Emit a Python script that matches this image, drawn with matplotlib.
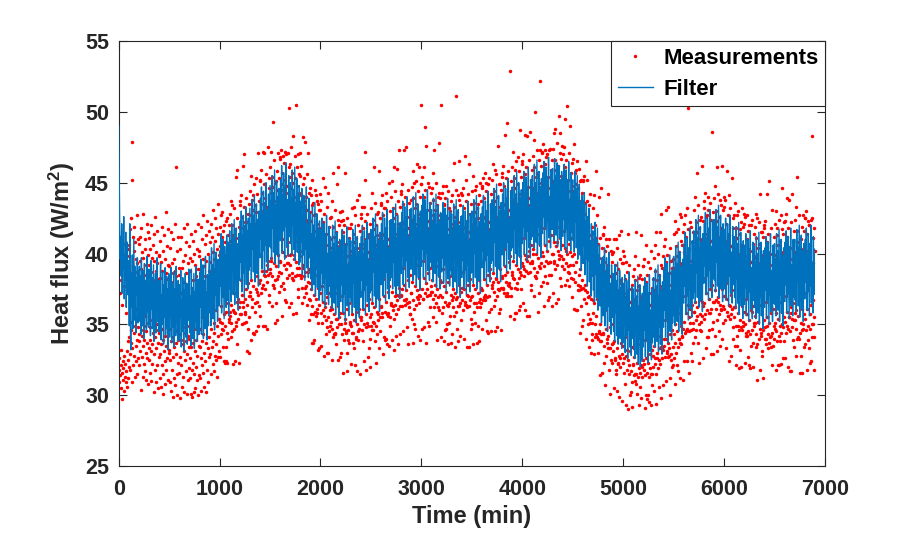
import numpy as np
import matplotlib.pyplot as plt

# Measured heat flux, read from the picture, in tenths of W/m^2,
# one value every 2.5 min (one row per 100 min)
meas_tenths = [
    318, 387, 309, 326, 395, 372, 314, 402, 321, 305, 381, 332, 316, 297, 364, 391, 311, 324, 407, 319, 377, 303, 328, 396, 313, 385, 322, 358, 309, 399, 317, 331, 374, 306, 389, 325, 312, 403, 338, 320,
    341, 406, 398, 329, 352, 417, 318, 384, 337, 425, 346, 309, 452, 479, 333, 391, 412, 321, 356, 402, 344, 328, 419, 387, 313, 349, 408, 335, 396, 324, 361, 427, 339, 315, 393, 348, 410, 326, 382, 343,
    407, 338, 321, 395, 354, 412, 331, 346, 389, 304, 418, 342, 327, 401, 376, 335, 313, 397, 428, 349, 322, 385, 339, 410, 317, 356, 403, 330, 392, 345, 311, 421, 337, 384, 326, 399, 351, 308, 415, 333,
    325, 392, 411, 339, 316, 348, 403, 331, 387, 420, 310, 353, 397, 336, 322, 406, 344, 381, 302, 414, 329, 395, 358, 318, 426, 341, 388, 333, 309, 401, 350, 321, 393, 416, 337, 305, 382, 346, 399, 327,
    398, 344, 312, 383, 409, 329, 351, 306, 394, 336, 419, 321, 347, 388, 315, 402, 339, 301, 378, 413, 331, 357, 324, 396, 342, 308, 386, 429, 335, 318, 405, 349, 382, 326, 311, 392, 343, 417, 330, 356,
    332, 391, 347, 309, 404, 325, 380, 338, 415, 303, 355, 393, 318, 341, 386, 327, 410, 299, 349, 396, 334, 312, 388, 345, 421, 307, 337, 461, 329, 384, 315, 402, 346, 300, 377, 339, 412, 323, 358, 390,
    385, 316, 343, 403, 327, 298, 372, 339, 412, 321, 354, 390, 306, 336, 395, 348, 313, 418, 331, 380, 302, 344, 399, 325, 360, 408, 317, 338, 386, 301, 349, 421, 329, 311, 393, 342, 376, 319, 405, 334,
    340, 397, 312, 326, 388, 301, 351, 414, 334, 318, 395, 346, 299, 381, 409, 323, 337, 302, 400, 358, 315, 392, 331, 416, 305, 347, 384, 320, 339, 403, 311, 376, 328, 421, 344, 300, 389, 335, 314, 398,
    402, 334, 389, 312, 347, 419, 326, 303, 381, 355, 410, 338, 321, 396, 343, 427, 316, 365, 391, 330, 306, 407, 349, 324, 384, 413, 337, 302, 395, 352, 318, 423, 341, 376, 309, 400, 333, 388, 327, 416,
    341, 408, 329, 394, 356, 315, 421, 347, 386, 334, 412, 369, 322, 401, 338, 431, 351, 317, 396, 344, 425, 328, 383, 409, 336, 360, 418, 325, 349, 403, 313, 390, 435, 342, 327, 414, 354, 399, 331, 387,
    419, 352, 327, 405, 427, 343, 363, 398, 347, 412, 351, 429, 334, 394, 346, 416, 324, 379, 420, 357, 323, 408, 349, 391, 324, 423, 359, 334, 402, 344, 425, 323, 397, 365, 413, 340, 352, 420, 354, 406,
    356, 428, 359, 409, 364, 437, 341, 351, 420, 389, 345, 434, 322, 413, 360, 398, 359, 432, 372, 347, 417, 324, 403, 358, 454, 352, 411, 349, 425, 336, 366, 459, 368, 406, 354, 419, 323, 396, 362, 434,
    437, 366, 357, 418, 441, 357, 381, 409, 350, 426, 371, 462, 366, 413, 362, 433, 351, 396, 470, 368, 357, 422, 359, 405, 352, 439, 375, 331, 416, 364, 422, 347, 411, 379, 428, 355, 330, 435, 370, 420,
    373, 444, 370, 427, 381, 455, 339, 368, 438, 404, 362, 441, 344, 431, 377, 415, 343, 449, 390, 365, 434, 359, 421, 375, 453, 345, 429, 366, 442, 373, 384, 471, 349, 424, 371, 437, 363, 413, 379, 451,
    452, 381, 356, 435, 459, 372, 398, 426, 376, 443, 388, 472, 349, 430, 378, 449, 385, 413, 471, 384, 349, 439, 375, 421, 388, 456, 392, 347, 433, 380, 475, 385, 428, 395, 446, 371, 366, 453, 386, 437,
    389, 461, 395, 443, 397, 472, 363, 384, 454, 420, 378, 493, 378, 447, 393, 431, 376, 466, 406, 381, 450, 351, 437, 391, 451, 365, 445, 382, 458, 353, 399, 471, 384, 440, 387, 453, 373, 429, 395, 468,
    467, 394, 377, 449, 473, 386, 410, 441, 356, 457, 401, 469, 379, 445, 392, 464, 375, 427, 472, 398, 367, 452, 389, 436, 366, 470, 405, 383, 448, 393, 471, 393, 443, 408, 461, 385, 362, 503, 399, 454,
    392, 463, 365, 446, 400, 475, 383, 386, 457, 423, 381, 483, 357, 450, 396, 434, 399, 469, 409, 384, 453, 358, 440, 394, 505, 390, 448, 385, 461, 375, 402, 470, 369, 443, 390, 456, 385, 432, 398, 471,
    455, 383, 385, 441, 462, 376, 402, 433, 365, 449, 392, 482, 390, 437, 384, 453, 369, 418, 479, 387, 376, 440, 377, 422, 372, 456, 394, 364, 431, 380, 471, 387, 424, 389, 443, 368, 353, 446, 379, 429,
    367, 441, 357, 423, 375, 452, 337, 363, 434, 398, 357, 436, 337, 427, 371, 410, 339, 445, 385, 359, 428, 356, 416, 368, 441, 358, 421, 361, 437, 332, 376, 435, 351, 418, 364, 431, 333, 407, 372, 442,
    431, 358, 335, 412, 437, 351, 377, 404, 360, 422, 366, 453, 328, 409, 356, 428, 365, 390, 447, 362, 343, 414, 353, 397, 330, 433, 369, 348, 406, 355, 443, 330, 401, 372, 419, 345, 349, 425, 360, 410,
    352, 426, 362, 404, 361, 437, 325, 347, 419, 385, 341, 457, 343, 412, 357, 398, 343, 431, 372, 344, 415, 336, 401, 354, 449, 354, 408, 348, 424, 325, 363, 461, 355, 405, 350, 420, 327, 393, 358, 429,
    423, 350, 330, 404, 430, 343, 370, 396, 316, 415, 358, 424, 339, 401, 347, 420, 351, 381, 457, 354, 344, 407, 345, 389, 330, 425, 361, 317, 398, 346, 418, 339, 393, 365, 411, 337, 350, 418, 352, 402,
    349, 421, 322, 399, 357, 432, 344, 344, 414, 380, 337, 433, 333, 408, 353, 394, 321, 427, 368, 340, 411, 341, 397, 350, 438, 317, 404, 345, 420, 339, 359, 441, 361, 401, 347, 416, 315, 390, 355, 425,
    428, 353, 355, 407, 433, 346, 373, 399, 338, 418, 361, 433, 324, 404, 350, 423, 472, 384, 452, 357, 318, 410, 348, 392, 351, 428, 364, 327, 401, 349, 412, 333, 396, 368, 414, 340, 320, 421, 355, 405,
    357, 432, 349, 409, 365, 443, 346, 352, 424, 390, 346, 461, 351, 417, 362, 403, 338, 436, 377, 349, 420, 323, 406, 359, 428, 343, 413, 353, 429, 357, 368, 458, 333, 410, 355, 425, 345, 398, 363, 434,
    436, 362, 358, 414, 441, 355, 382, 408, 329, 427, 370, 432, 341, 413, 359, 432, 339, 394, 443, 366, 340, 418, 357, 401, 336, 437, 373, 356, 410, 358, 450, 335, 405, 377, 423, 349, 355, 430, 364, 414,
    365, 440, 339, 417, 373, 451, 363, 360, 432, 398, 354, 461, 332, 425, 370, 411, 364, 444, 385, 357, 428, 342, 414, 367, 460, 371, 421, 361, 437, 336, 376, 473, 370, 418, 363, 433, 343, 406, 371, 442,
    444, 370, 375, 422, 449, 363, 390, 416, 345, 435, 378, 473, 367, 421, 367, 440, 364, 402, 475, 374, 368, 426, 365, 409, 348, 445, 381, 336, 418, 366, 436, 362, 413, 385, 431, 357, 357, 438, 372, 422,
    372, 447, 354, 424, 380, 458, 337, 367, 439, 405, 361, 450, 350, 432, 377, 418, 347, 451, 392, 364, 435, 369, 421, 374, 463, 342, 428, 368, 444, 365, 383, 461, 371, 425, 370, 440, 339, 413, 505, 449,
    449, 375, 347, 427, 454, 368, 395, 421, 368, 440, 383, 461, 348, 426, 372, 445, 489, 407, 476, 379, 337, 431, 370, 414, 375, 450, 386, 352, 423, 371, 447, 349, 418, 390, 436, 362, 371, 443, 377, 427,
    373, 446, 373, 423, 381, 457, 355, 368, 438, 404, 362, 473, 371, 431, 378, 417, 352, 450, 391, 365, 434, 339, 420, 375, 440, 362, 427, 369, 443, 360, 384, 478, 381, 424, 371, 439, 341, 412, 380, 505,
    443, 369, 358, 421, 448, 362, 389, 415, 338, 434, 377, 435, 346, 420, 366, 439, 347, 401, 448, 373, 350, 425, 364, 408, 363, 444, 380, 336, 417, 365, 432, 351, 412, 384, 430, 356, 337, 437, 371, 421,
    367, 441, 343, 418, 375, 452, 369, 362, 433, 399, 356, 464, 334, 426, 372, 412, 368, 445, 511, 359, 429, 347, 415, 369, 441, 338, 422, 363, 438, 363, 378, 465, 342, 419, 365, 434, 353, 407, 373, 443,
    441, 367, 376, 419, 446, 360, 387, 413, 340, 432, 375, 469, 366, 418, 364, 437, 364, 399, 452, 371, 334, 423, 362, 406, 370, 442, 378, 334, 415, 363, 463, 367, 410, 382, 428, 354, 347, 435, 369, 419,
    370, 444, 350, 421, 378, 455, 336, 365, 436, 402, 359, 445, 351, 429, 375, 415, 365, 448, 389, 362, 432, 337, 418, 372, 435, 349, 425, 366, 441, 338, 381, 450, 362, 422, 368, 437, 365, 410, 376, 446,
    448, 374, 347, 426, 453, 367, 394, 420, 369, 439, 382, 457, 367, 425, 371, 444, 353, 406, 450, 378, 345, 430, 369, 413, 344, 449, 385, 359, 422, 370, 453, 383, 417, 389, 435, 361, 345, 442, 376, 426,
    378, 452, 380, 429, 386, 463, 363, 373, 444, 410, 367, 459, 345, 437, 383, 423, 382, 456, 397, 370, 440, 348, 426, 380, 476, 375, 433, 374, 449, 358, 389, 449, 361, 430, 376, 445, 346, 418, 384, 454,
    457, 383, 375, 435, 462, 376, 403, 429, 372, 448, 391, 484, 385, 434, 380, 453, 370, 415, 492, 387, 372, 439, 378, 422, 370, 458, 394, 377, 431, 379, 529, 356, 426, 398, 444, 370, 376, 451, 385, 435,
    387, 461, 383, 438, 395, 472, 354, 382, 453, 419, 376, 459, 358, 446, 392, 432, 358, 465, 406, 379, 449, 375, 435, 389, 468, 360, 442, 383, 458, 387, 398, 487, 363, 439, 385, 454, 375, 427, 393, 463,
    465, 391, 365, 443, 470, 384, 411, 437, 389, 456, 399, 484, 360, 442, 388, 461, 396, 423, 483, 395, 356, 447, 386, 430, 398, 466, 402, 356, 439, 387, 486, 393, 434, 406, 452, 378, 374, 459, 393, 443,
    395, 469, 400, 446, 403, 480, 370, 390, 461, 427, 384, 500, 384, 454, 400, 440, 383, 473, 414, 387, 457, 359, 443, 397, 456, 372, 450, 391, 466, 522, 406, 473, 390, 447, 393, 462, 377, 435, 401, 471,
    472, 398, 380, 450, 477, 391, 418, 444, 363, 463, 406, 473, 384, 449, 395, 468, 379, 430, 470, 402, 367, 454, 393, 437, 369, 473, 409, 385, 446, 394, 474, 394, 441, 413, 459, 385, 363, 466, 400, 450,
    400, 474, 372, 451, 408, 485, 393, 395, 466, 432, 389, 488, 365, 459, 405, 445, 408, 478, 419, 392, 462, 368, 448, 402, 497, 399, 455, 396, 471, 383, 411, 485, 377, 452, 398, 467, 391, 440, 406, 476,
    470, 396, 396, 448, 475, 389, 416, 442, 378, 461, 404, 495, 402, 447, 393, 466, 381, 428, 504, 400, 387, 452, 391, 435, 386, 471, 407, 377, 444, 392, 490, 401, 439, 411, 457, 383, 369, 464, 398, 448,
    392, 467, 382, 444, 400, 477, 361, 387, 457, 423, 380, 459, 360, 449, 394, 433, 360, 465, 405, 378, 446, 374, 431, 385, 460, 374, 437, 377, 451, 344, 389, 452, 363, 428, 375, 443, 349, 414, 381, 452,
    451, 376, 353, 428, 455, 368, 394, 418, 374, 436, 378, 465, 340, 420, 365, 437, 373, 398, 452, 369, 350, 419, 357, 401, 334, 434, 370, 351, 407, 354, 442, 330, 397, 368, 413, 339, 343, 419, 351, 402,
    358, 432, 367, 410, 365, 441, 329, 350, 420, 386, 341, 458, 343, 411, 356, 395, 341, 427, 368, 340, 407, 330, 393, 345, 440, 344, 397, 338, 411, 314, 350, 446, 343, 390, 338, 404, 316, 378, 344, 413,
    414, 343, 323, 394, 419, 335, 360, 385, 307, 402, 347, 410, 328, 388, 337, 405, 340, 369, 442, 342, 333, 392, 333, 375, 318, 410, 348, 301, 384, 333, 402, 325, 377, 350, 394, 323, 336, 400, 337, 383,
    331, 401, 305, 378, 338, 410, 326, 325, 392, 359, 318, 410, 315, 386, 333, 370, 303, 404, 345, 322, 389, 323, 374, 328, 413, 299, 381, 326, 396, 320, 337, 416, 343, 379, 329, 393, 296, 365, 335, 402,
    393, 323, 326, 372, 398, 316, 341, 365, 308, 382, 328, 394, 293, 369, 318, 387, 332, 350, 414, 325, 290, 374, 315, 358, 321, 392, 331, 300, 366, 317, 375, 302, 360, 334, 378, 309, 292, 384, 322, 368,
    321, 389, 314, 367, 327, 398, 310, 315, 381, 349, 308, 415, 315, 374, 323, 360, 301, 392, 336, 313, 377, 293, 363, 319, 383, 306, 370, 316, 385, 321, 327, 413, 298, 368, 320, 382, 313, 354, 325, 391,
    391, 322, 318, 370, 396, 314, 339, 363, 291, 380, 326, 406, 300, 367, 316, 385, 297, 348, 394, 323, 300, 372, 313, 356, 295, 390, 329, 319, 364, 315, 402, 293, 358, 332, 376, 307, 315, 382, 320, 366,
    328, 397, 303, 374, 335, 406, 326, 322, 388, 355, 315, 415, 294, 381, 330, 367, 326, 400, 342, 319, 385, 306, 370, 325, 415, 333, 377, 322, 392, 298, 334, 428, 333, 375, 326, 390, 307, 362, 332, 398,
    405, 335, 340, 384, 410, 327, 353, 377, 310, 394, 340, 431, 331, 381, 330, 399, 327, 362, 433, 337, 333, 386, 328, 370, 312, 404, 343, 300, 378, 329, 395, 325, 372, 346, 390, 320, 321, 396, 334, 381,
    343, 414, 326, 390, 350, 423, 308, 337, 405, 371, 330, 415, 321, 398, 345, 383, 317, 417, 358, 334, 401, 340, 387, 340, 428, 312, 393, 337, 409, 336, 349, 426, 342, 392, 341, 406, 311, 378, 347, 415,
    421, 352, 324, 401, 427, 344, 370, 394, 345, 412, 358, 432, 324, 398, 347, 417, 364, 379, 503, 355, 316, 403, 345, 387, 351, 422, 361, 330, 395, 346, 419, 324, 390, 364, 408, 337, 347, 415, 351, 399,
    359, 431, 359, 408, 366, 440, 341, 353, 422, 388, 346, 457, 356, 415, 362, 400, 337, 434, 375, 350, 418, 323, 404, 357, 424, 346, 410, 352, 426, 345, 367, 462, 366, 409, 356, 423, 326, 395, 363, 432,
    437, 365, 354, 414, 443, 357, 383, 407, 333, 426, 372, 427, 341, 411, 360, 431, 341, 393, 440, 368, 346, 417, 358, 401, 358, 436, 375, 329, 409, 361, 424, 347, 404, 378, 486, 352, 329, 429, 366, 413,
    366, 439, 342, 416, 374, 448, 367, 361, 430, 396, 353, 461, 331, 423, 369, 408, 366, 442, 384, 357, 426, 345, 412, 364, 438, 335, 418, 360, 434, 361, 375, 462, 340, 417, 363, 431, 351, 403, 370, 440,
    433, 361, 370, 409, 438, 353, 379, 403, 333, 421, 368, 458, 359, 407, 356, 427, 356, 389, 441, 364, 324, 413, 354, 397, 363, 432, 371, 328, 405, 357, 453, 361, 400, 374, 418, 348, 340, 425, 362, 409,
    355, 427, 335, 404, 362, 436, 321, 349, 418, 384, 342, 427, 335, 411, 358, 396, 349, 430, 371, 346, 414, 319, 400, 353, 417, 332, 406, 348, 422, 320, 363, 432, 346, 405, 352, 419, 349, 391, 359, 428,
    421, 350, 323, 398, 426, 342, 368, 392, 344, 410, 357, 427, 342, 396, 345, 416, 327, 378, 420, 353, 321, 402, 343, 386, 319, 420, 360, 335, 394, 346, 424, 359, 389, 363, 407, 337, 320, 414, 351, 398,
    349, 419, 351, 397, 356, 428, 334, 343, 411, 377, 336, 425, 311, 404, 352, 389, 352, 422, 364, 340, 407, 318, 393, 347, 442, 344, 399, 342, 415, 328, 357, 415, 331, 398, 346, 412, 312, 384, 353, 420,
    418, 348, 340, 396, 423, 340, 366, 390, 336, 408, 355, 442, 349, 394, 343, 414, 333, 376, 451, 351, 337, 400, 341, 384, 334, 418, 358, 342, 392, 344, 431, 321, 387, 361, 405, 335, 340, 412, 349, 396,
    351, 421, 347, 399, 358, 430, 318, 345, 413, 379, 338, 418, 321, 406, 354, 391, 321, 424, 366, 342, 409, 338, 395, 349, 427, 322, 401, 344, 417, 350, 359, 446, 326, 400, 348, 414, 338, 386, 355, 422,
    423, 352, 326, 400, 428, 344, 370, 394, 349, 412, 359, 439, 320, 398, 347, 418, 355, 380, 438, 355, 317, 404, 345, 388, 358, 422, 362, 317, 396, 348, 442, 354, 391, 365, 409, 339, 334, 416, 353, 400,
    353, 424, 358, 401, 360, 433, 328, 347, 416, 381, 340, 454, 341, 408, 356, 393, 340, 427, 368, 344, 411, 316, 397, 351, 410, 328, 403, 346, 419, 316, 361, 427, 347, 402, 350, 416, 334, 388, 357, 425,
    425, 354, 336, 402, 430, 346, 372, 396, 318, 414, 361, 423, 339, 400, 349, 420, 333, 382, 420, 357, 323, 406, 347, 390, 324, 424, 364, 341, 483, 350, 425, 350, 393, 367, 411, 341, 318, 418, 355, 402,
]

# Filter output, in tenths of W/m^2, one value every 5 min (one row per 100 min)
filt_tenths = [
    490, 452, 418, 396, 412, 384, 421, 372, 405, 389, 426, 368, 398, 381, 415, 362, 393, 408, 371, 386,
    395, 349, 421, 358, 332, 386, 362, 399, 347, 378, 410, 353, 391, 365, 344, 383, 371, 397, 351, 388,
    352, 391, 361, 384, 343, 397, 366, 349, 388, 372, 340, 393, 357, 381, 364, 346, 398, 359, 376, 348,
    389, 350, 376, 342, 395, 361, 383, 347, 370, 392, 338, 379, 356, 386, 344, 373, 397, 352, 365, 381,
    345, 381, 358, 393, 339, 371, 350, 387, 362, 336, 378, 355, 390, 343, 368, 384, 347, 375, 332, 386,
    384, 341, 372, 356, 390, 337, 366, 379, 348, 387, 334, 361, 375, 342, 391, 352, 369, 338, 381, 357,
    339, 378, 355, 388, 334, 367, 345, 383, 359, 331, 374, 350, 386, 341, 364, 379, 336, 372, 353, 389,
    380, 344, 370, 335, 389, 357, 376, 340, 365, 386, 333, 373, 352, 391, 347, 368, 338, 382, 360, 343,
    351, 387, 362, 396, 343, 376, 355, 392, 340, 381, 366, 347, 398, 358, 373, 339, 385, 363, 349, 390,
    398, 358, 386, 349, 404, 368, 392, 354, 381, 407, 346, 389, 371, 401, 360, 383, 352, 396, 375, 363,
    365, 402, 377, 414, 358, 395, 369, 410, 381, 354, 405, 374, 399, 362, 413, 385, 367, 408, 356, 397,
    416, 375, 405, 366, 421, 387, 411, 371, 398, 424, 364, 403, 381, 418, 369, 407, 392, 360, 414, 384,
    381, 423, 394, 430, 373, 412, 386, 427, 398, 369, 420, 390, 433, 378, 416, 404, 375, 425, 388, 411,
    432, 391, 421, 382, 438, 403, 427, 387, 414, 441, 380, 419, 398, 435, 386, 424, 409, 377, 430, 401,
    397, 439, 410, 447, 389, 428, 402, 444, 415, 385, 436, 406, 450, 394, 431, 420, 388, 442, 405, 427,
    448, 404, 437, 396, 455, 418, 443, 401, 430, 459, 393, 434, 412, 451, 399, 440, 424, 390, 446, 415,
    409, 452, 423, 462, 400, 441, 416, 457, 429, 396, 448, 419, 464, 405, 438, 433, 398, 455, 412, 443,
    450, 407, 439, 399, 459, 420, 445, 403, 432, 461, 395, 436, 414, 453, 401, 442, 426, 392, 448, 417,
    394, 437, 408, 446, 385, 426, 399, 441, 412, 381, 434, 403, 447, 390, 421, 417, 383, 439, 397, 428,
    425, 382, 414, 374, 433, 396, 420, 378, 407, 436, 370, 411, 389, 428, 376, 417, 401, 367, 423, 392,
    374, 417, 386, 425, 366, 405, 379, 421, 392, 362, 414, 383, 427, 371, 400, 396, 364, 419, 377, 408,
    412, 369, 401, 361, 420, 382, 407, 365, 394, 423, 357, 398, 376, 415, 363, 404, 388, 354, 410, 379,
    366, 409, 378, 417, 358, 397, 371, 413, 384, 352, 406, 375, 419, 363, 392, 388, 356, 411, 369, 400,
    409, 366, 398, 358, 417, 379, 404, 362, 391, 420, 351, 395, 373, 412, 360, 401, 385, 355, 407, 376,
    369, 412, 381, 420, 361, 400, 374, 416, 387, 357, 409, 378, 422, 366, 395, 391, 359, 414, 372, 403,
    417, 374, 406, 366, 425, 387, 412, 370, 399, 428, 362, 403, 381, 420, 368, 409, 393, 359, 415, 384,
    378, 421, 390, 429, 370, 409, 383, 425, 396, 366, 418, 387, 431, 375, 404, 400, 368, 423, 381, 412,
    424, 383, 413, 375, 432, 394, 421, 377, 406, 435, 371, 410, 388, 427, 377, 418, 400, 368, 422, 393,
    386, 429, 398, 437, 378, 417, 391, 433, 404, 374, 426, 395, 440, 383, 412, 408, 376, 431, 389, 420,
    432, 389, 421, 381, 440, 402, 427, 385, 414, 443, 377, 418, 396, 435, 383, 424, 408, 374, 430, 399,
    391, 434, 403, 442, 383, 422, 396, 438, 409, 379, 431, 400, 445, 388, 417, 413, 381, 436, 394, 425,
    431, 390, 422, 380, 439, 401, 428, 386, 413, 442, 376, 419, 395, 434, 384, 423, 407, 375, 429, 398,
    387, 428, 397, 436, 379, 416, 392, 432, 403, 373, 427, 394, 439, 382, 413, 407, 377, 430, 388, 419,
    428, 384, 417, 376, 435, 397, 423, 380, 410, 438, 372, 414, 391, 431, 378, 420, 403, 369, 426, 394,
    383, 427, 395, 434, 375, 414, 388, 430, 401, 371, 423, 392, 437, 380, 409, 405, 373, 428, 386, 417,
    430, 387, 419, 379, 438, 400, 425, 383, 412, 441, 375, 416, 394, 433, 381, 422, 406, 372, 428, 397,
    390, 433, 402, 441, 382, 421, 395, 437, 408, 378, 430, 399, 444, 387, 416, 412, 380, 435, 393, 424,
    438, 395, 427, 387, 446, 408, 433, 391, 420, 449, 383, 424, 402, 441, 389, 430, 414, 380, 436, 405,
    399, 442, 411, 450, 391, 430, 404, 446, 417, 387, 439, 408, 453, 396, 425, 421, 389, 444, 402, 433,
    447, 404, 436, 396, 455, 417, 442, 400, 429, 458, 392, 433, 411, 450, 398, 439, 423, 389, 445, 414,
    407, 450, 419, 458, 399, 438, 412, 454, 425, 395, 447, 416, 461, 404, 433, 429, 397, 452, 410, 441,
    455, 412, 444, 404, 463, 425, 450, 408, 437, 466, 400, 441, 419, 458, 406, 447, 431, 397, 453, 422,
    414, 457, 426, 465, 406, 445, 419, 461, 432, 402, 454, 423, 468, 411, 440, 436, 404, 459, 417, 448,
    460, 417, 449, 409, 467, 430, 455, 413, 442, 464, 405, 446, 424, 462, 411, 452, 436, 402, 458, 427,
    412, 455, 424, 463, 404, 443, 417, 459, 430, 400, 452, 421, 465, 409, 438, 432, 402, 457, 415, 446,
    452, 409, 443, 401, 458, 422, 446, 404, 431, 455, 396, 435, 413, 449, 399, 437, 420, 388, 441, 410,
    393, 437, 405, 443, 385, 423, 396, 435, 406, 377, 426, 395, 432, 380, 409, 401, 370, 421, 384, 411,
    416, 374, 408, 366, 422, 386, 410, 369, 395, 418, 360, 399, 377, 406, 363, 392, 380, 351, 397, 370,
    356, 398, 368, 404, 349, 386, 360, 397, 372, 345, 390, 363, 401, 352, 379, 374, 343, 392, 355, 383,
    386, 345, 377, 338, 392, 358, 381, 342, 369, 394, 336, 373, 351, 388, 340, 376, 362, 333, 383, 354,
    337, 379, 349, 385, 330, 368, 342, 381, 355, 326, 374, 346, 387, 334, 362, 357, 328, 377, 340, 369,
    375, 332, 366, 326, 381, 347, 370, 329, 358, 384, 322, 362, 340, 378, 320, 367, 351, 324, 372, 343,
    334, 377, 346, 383, 327, 365, 339, 379, 352, 323, 372, 343, 385, 331, 360, 355, 325, 375, 337, 367,
    383, 341, 372, 334, 389, 354, 377, 338, 365, 392, 331, 369, 348, 385, 336, 374, 359, 329, 380, 350,
    348, 390, 360, 397, 341, 379, 353, 393, 366, 337, 386, 357, 399, 345, 374, 369, 339, 388, 351, 381,
    398, 356, 388, 349, 405, 369, 393, 352, 381, 408, 345, 385, 363, 401, 350, 391, 375, 343, 396, 366,
    365, 407, 377, 415, 357, 396, 370, 411, 383, 353, 404, 374, 418, 361, 392, 386, 355, 409, 368, 399,
    416, 373, 405, 365, 424, 386, 411, 369, 398, 427, 362, 402, 380, 419, 367, 408, 392, 359, 414, 383,
    379, 421, 391, 429, 371, 410, 384, 425, 397, 367, 418, 388, 431, 376, 405, 400, 369, 423, 382, 413,
    424, 381, 413, 373, 431, 394, 419, 377, 406, 434, 369, 410, 388, 427, 375, 416, 400, 366, 421, 391,
    375, 417, 387, 425, 367, 406, 380, 421, 393, 363, 414, 384, 427, 372, 401, 396, 365, 419, 378, 409,
    412, 369, 401, 361, 419, 382, 407, 365, 394, 422, 357, 398, 376, 415, 363, 404, 388, 354, 409, 379,
    364, 406, 376, 414, 356, 395, 369, 410, 382, 352, 403, 373, 416, 361, 390, 385, 354, 408, 367, 398,
    405, 362, 394, 354, 412, 375, 400, 358, 387, 415, 350, 391, 369, 408, 356, 397, 381, 347, 402, 372,
    362, 404, 374, 412, 354, 393, 367, 408, 380, 350, 401, 371, 414, 359, 388, 383, 352, 406, 365, 396,
    407, 364, 396, 356, 414, 377, 402, 360, 389, 417, 352, 393, 371, 410, 358, 399, 383, 349, 404, 374,
    366, 408, 378, 416, 358, 397, 371, 412, 384, 354, 405, 375, 418, 363, 392, 387, 356, 410, 369, 400,
    410, 367, 399, 359, 417, 380, 405, 363, 392, 420, 355, 396, 374, 413, 361, 402, 386, 352, 407, 377,
    368, 410, 380, 418, 360, 399, 373, 414, 386, 356, 407, 377, 420, 365, 394, 389, 358, 412, 371, 403,
]

meas_step = 2.5  # min between measurements
filt_step = 5    # min between filter outputs
x_ticks = [0, 1000, 2000, 3000, 4000, 5000, 6000, 7000]
y_ticks = [25, 30, 35, 40, 45, 50, 55]

t_meas = np.arange(len(meas_tenths)) * meas_step
t_filt = np.arange(len(filt_tenths)) * filt_step
meas = np.array(meas_tenths) / 10.0
filt = np.array(filt_tenths) / 10.0

plt.rcParams['font.family'] = ['Liberation Sans', 'DejaVu Sans']
plt.rcParams['font.weight'] = 'bold'
plt.rcParams['axes.labelweight'] = 'bold'
plt.rcParams['mathtext.fontset'] = 'custom'
plt.rcParams['mathtext.bf'] = 'Liberation Sans:bold'
plt.rcParams['mathtext.rm'] = 'Liberation Sans:bold'
plt.rcParams['mathtext.default'] = 'bf'

grey = '#262626'

fig = plt.figure(figsize=(9.13, 5.37), dpi=100)
ax = fig.add_axes([0.130, 0.1322, 0.7736, 0.7914])

ax.plot(t_meas, meas, linestyle='none', marker='o', markersize=2.5,
        markeredgewidth=0, color='#ff0000', label='Measurements')
# drawn above the spines so the start-up spike at t=0 shows on the left edge
ax.plot(t_filt, filt, color='#0072bd', linewidth=1.0, label='Filter', zorder=3)

ax.set_xlim(0, 7000)
ax.set_ylim(25, 55)
ax.set_xticks(x_ticks)
ax.set_yticks(y_ticks)
ax.tick_params(direction='in', length=6, width=0.8, top=True, right=True,
               colors=grey, labelsize=15.5)
ax.tick_params(axis='x', pad=9)
ax.tick_params(axis='y', pad=7)
for sp in ax.spines.values():
    sp.set_color(grey)
    sp.set_linewidth(0.8)

ax.set_xlabel('Time (min)', fontsize=17, fontweight='bold', color=grey, labelpad=4)
ax.set_ylabel(r'Heat flux (W/m$^{2}$)', fontsize=17, fontweight='bold',
              color=grey, labelpad=6)

leg = ax.legend(loc='upper right', borderaxespad=0, fancybox=False,
                edgecolor=grey, framealpha=1, fontsize=16,
                handlelength=1.6, handletextpad=0.45, borderpad=0.3,
                labelspacing=0.45, markerscale=1.0)
leg.set_zorder(5)
leg.get_frame().set_linewidth(0.8)

fig.savefig('out.png', dpi=100)
